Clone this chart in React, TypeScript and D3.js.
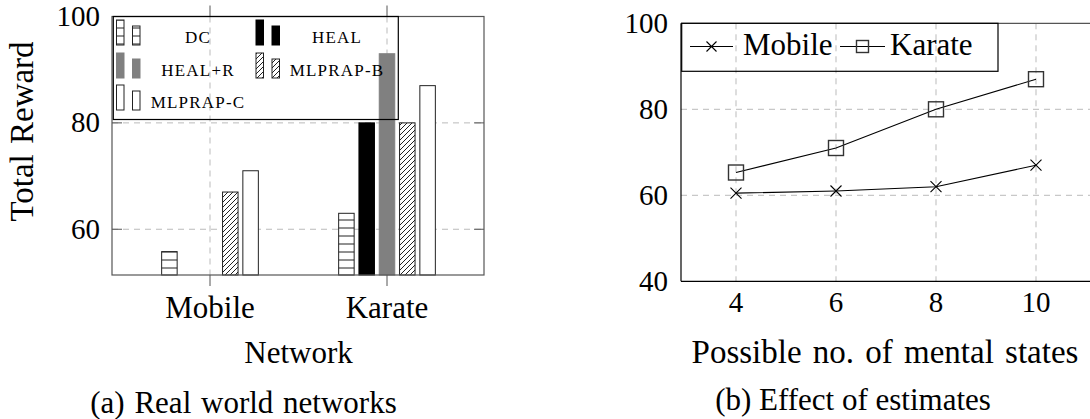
import React from 'react';
import * as d3 from 'd3';

// (a) real world networks
const networks = ['Mobile', 'Karate'];
const methods = ['DC', 'HEAL', 'HEAL+R', 'MLPRAP-B', 'MLPRAP-C'];
const dcValues = [55.8, 63];
const healValues = [null, 80];
const healRValues = [null, 93];
const mlprapBValues = [67, 80];
const mlprapCValues = [71, 87];
const barTicks = [60, 80, 100];

// (b) effect of estimates
const mentalStates = [4, 6, 8, 10];
const mobileReward = [60.5, 61, 62, 67];
const karateReward = [65.3, 71, 80, 87];
const lineTicks = [40, 60, 80, 100];

const FONT = "'Liberation Serif', 'Times New Roman', serif";

const seriesByMethod: Record<string, (number | null)[]> = {
  'DC': dcValues,
  'HEAL': healValues,
  'HEAL+R': healRValues,
  'MLPRAP-B': mlprapBValues,
  'MLPRAP-C': mlprapCValues,
};

const barStyle: Record<string, { fill: string; stroke: string }> = {
  'DC': { fill: 'url(#hlines)', stroke: '#222' },
  'HEAL': { fill: '#000', stroke: '#000' },
  'HEAL+R': { fill: '#808080', stroke: '#808080' },
  'MLPRAP-B': { fill: 'url(#nelines)', stroke: '#222' },
  'MLPRAP-C': { fill: '#fff', stroke: '#222' },
};

const Cross = ({ x, y, r }: { x: number; y: number; r: number }) => (
  <path d={`M${x - r},${y - r}L${x + r},${y + r}M${x - r},${y + r}L${x + r},${y - r}`} stroke="#000" strokeWidth={1.1} fill="none" />
);
const Square = ({ x, y, r }: { x: number; y: number; r: number }) => (
  <rect x={x - r} y={y - r} width={2 * r} height={2 * r} stroke="#333" strokeWidth={1.4} fill="none" />
);

const BarChart = () => {
  const left = 112, right = 484, top = 16.5, bottom = 275;
  const y = d3.scaleLinear().domain([51.4, 100]).range([bottom, top]);
  const x = d3.scalePoint().domain(networks).range([210, 387]);
  const offset = d3.scaleBand().domain(methods).range([-50.75, 50.75]);
  const barW = 15.5;

  const legendCols = [116.5, 256];
  const legendTextX = [198, 337];
  const legendRows = [45, 78, 110];

  return (
    <g>
      {/* grid */}
      {barTicks.filter(t => t < 100).map(t => (
        <line key={'gy' + t} x1={left} x2={right} y1={y(t)} y2={y(t)} stroke="#bbb" strokeDasharray="6,5" />
      ))}
      {networks.map(n => (
        <line key={'gx' + n} x1={x(n)} x2={x(n)} y1={top} y2={bottom} stroke="#bbb" strokeDasharray="6,5" />
      ))}
      {/* bars */}
      {methods.map(m => networks.map((n, i) => {
        const v = seriesByMethod[m][i];
        if (v == null) return null;
        const bx = (x(n) as number) + (offset(m) as number) + (offset.bandwidth() - barW) / 2;
        return (
          <rect key={m + n} x={bx} y={y(v)} width={barW} height={bottom - y(v)}
            fill={barStyle[m].fill} stroke={barStyle[m].stroke} strokeWidth={1} />
        );
      }))}
      {/* frame */}
      <rect x={left} y={top} width={right - left} height={bottom - top} fill="none" stroke="#555" strokeWidth={1.2} />
      {barTicks.map(t => (
        <g key={'ty' + t}>
          <line x1={left} x2={left + 10} y1={y(t)} y2={y(t)} stroke="#555" />
          <line x1={right - 10} x2={right} y1={y(t)} y2={y(t)} stroke="#555" />
          <text x={left - 12} y={y(t)} dy="0.33em" textAnchor="end" fontSize={29} fontFamily={FONT}>{t}</text>
        </g>
      ))}
      {networks.map(n => (
        <g key={'tx' + n}>
          <line x1={x(n)} x2={x(n)} y1={bottom} y2={bottom + 11} stroke="#555" />
          <line x1={x(n)} x2={x(n)} y1={top} y2={top - 11} stroke="#555" />
          <text x={x(n)} y={318} textAnchor="middle" fontSize={31} fontFamily={FONT}>{n}</text>
        </g>
      ))}
      <text transform={`translate(33,131.5) rotate(-90)`} textAnchor="middle" fontSize={33} wordSpacing={2} fontFamily={FONT}>Total Reward</text>
      <text x={298.5} y={363} textAnchor="middle" fontSize={31} fontFamily={FONT}>Network</text>
      <text x={243.5} y={413} textAnchor="middle" fontSize={31} wordSpacing={2} fontFamily={FONT}>(a) Real world networks</text>
      {/* legend */}
      <rect x={113.3} y={top} width={285} height={103} fill="none" stroke="#000" strokeWidth={1.2} />
      {methods.map((m, i) => {
        const col = i % 2, row = Math.floor(i / 2);
        const gx = legendCols[col], base = legendRows[row];
        const tx = m === 'MLPRAP-C' ? 198 : legendTextX[col];
        return (
          <g key={'lg' + m}>
            <rect x={gx} y={base - 25} width={7.5} height={25} fill={barStyle[m].fill} stroke={barStyle[m].stroke} />
            <rect x={gx + 16} y={base - 19} width={7.5} height={19} fill={barStyle[m].fill} stroke={barStyle[m].stroke} />
            <text x={tx} y={base - 2} textAnchor="middle" fontSize={17} letterSpacing={1.2} fontFamily={FONT}>{m}</text>
          </g>
        );
      })}
    </g>
  );
};

const LineChart = () => {
  const left = 681, right = 1091, top = 23.3, bottom = 281.3;
  const x = d3.scaleLinear().domain([2.9, 11.1]).range([left, right]);
  const y = d3.scaleLinear().domain([40, 100]).range([bottom, top]);
  const line = d3.line<number>().x((_, i) => x(mentalStates[i])).y(d => y(d));

  return (
    <g>
      {mentalStates.map(s => (
        <line key={'gx' + s} x1={x(s)} x2={x(s)} y1={top} y2={bottom} stroke="#bbb" strokeDasharray="6,5" />
      ))}
      {lineTicks.filter(t => t > 40 && t < 100).map(t => (
        <line key={'gy' + t} x1={left} x2={right} y1={y(t)} y2={y(t)} stroke="#bbb" strokeDasharray="6,5" />
      ))}
      <line x1={left} x2={right} y1={top} y2={top} stroke="#555" strokeWidth={1.2} />
      <line x1={left} x2={right} y1={bottom} y2={bottom} stroke="#000" strokeWidth={1.2} />
      <line x1={left} x2={left} y1={top} y2={bottom} stroke="#000" strokeWidth={1.2} />
      <path d={line(mobileReward) ?? ''} fill="none" stroke="#000" strokeWidth={1.1} />
      <path d={line(karateReward) ?? ''} fill="none" stroke="#000" strokeWidth={1.1} />
      {mobileReward.map((v, i) => <Cross key={'m' + i} x={x(mentalStates[i])} y={y(v)} r={5.5} />)}
      {karateReward.map((v, i) => <Square key={'k' + i} x={x(mentalStates[i])} y={y(v)} r={7.5} />)}
      {lineTicks.map(t => (
        <text key={'ty' + t} x={668} y={y(t)} dy="0.33em" textAnchor="end" fontSize={29} fontFamily={FONT}>{t}</text>
      ))}
      {mentalStates.map(s => (
        <text key={'tx' + s} x={x(s)} y={311.5} textAnchor="middle" fontSize={29} fontFamily={FONT}>{s}</text>
      ))}
      <text x={885} y={363} textAnchor="middle" fontSize={33} wordSpacing={3} fontFamily={FONT}>Possible no. of mental states</text>
      <text x={853} y={410} textAnchor="middle" fontSize={31} fontFamily={FONT}>(b) Effect of estimates</text>
      {/* legend */}
      <rect x={681.7} y={top} width={316.3} height={48} fill="none" stroke="#000" strokeWidth={1.2} />
      <line x1={690} x2={733} y1={46.5} y2={46.5} stroke="#000" strokeWidth={1.1} />
      <Cross x={711.5} y={46.5} r={5} />
      <text x={743} y={55} fontSize={31} fontFamily={FONT}>Mobile</text>
      <line x1={840} x2={885} y1={46.5} y2={46.5} stroke="#000" strokeWidth={1.1} />
      <Square x={862.5} y={46.5} r={6} />
      <text x={890} y={55} fontSize={31} fontFamily={FONT}>Karate</text>
    </g>
  );
};

export default function App() {
  return (
    <svg width={1090} height={419} style={{ position: 'absolute', left: 0, top: 0, background: '#fff' }}>
      <defs>
        <pattern id="hlines" patternUnits="userSpaceOnUse" width={8} height={8}>
          <rect width={8} height={8} fill="#fff" />
          <line x1={0} x2={8} y1={4} y2={4} stroke="#222" strokeWidth={1} />
        </pattern>
        <pattern id="nelines" patternUnits="userSpaceOnUse" width={5} height={5}>
          <rect width={5} height={5} fill="#fff" />
          <path d="M0,5L5,0M-1,1L1,-1M4,6L6,4" stroke="#222" strokeWidth={1} />
        </pattern>
      </defs>
      <BarChart />
      <LineChart />
    </svg>
  );
}
